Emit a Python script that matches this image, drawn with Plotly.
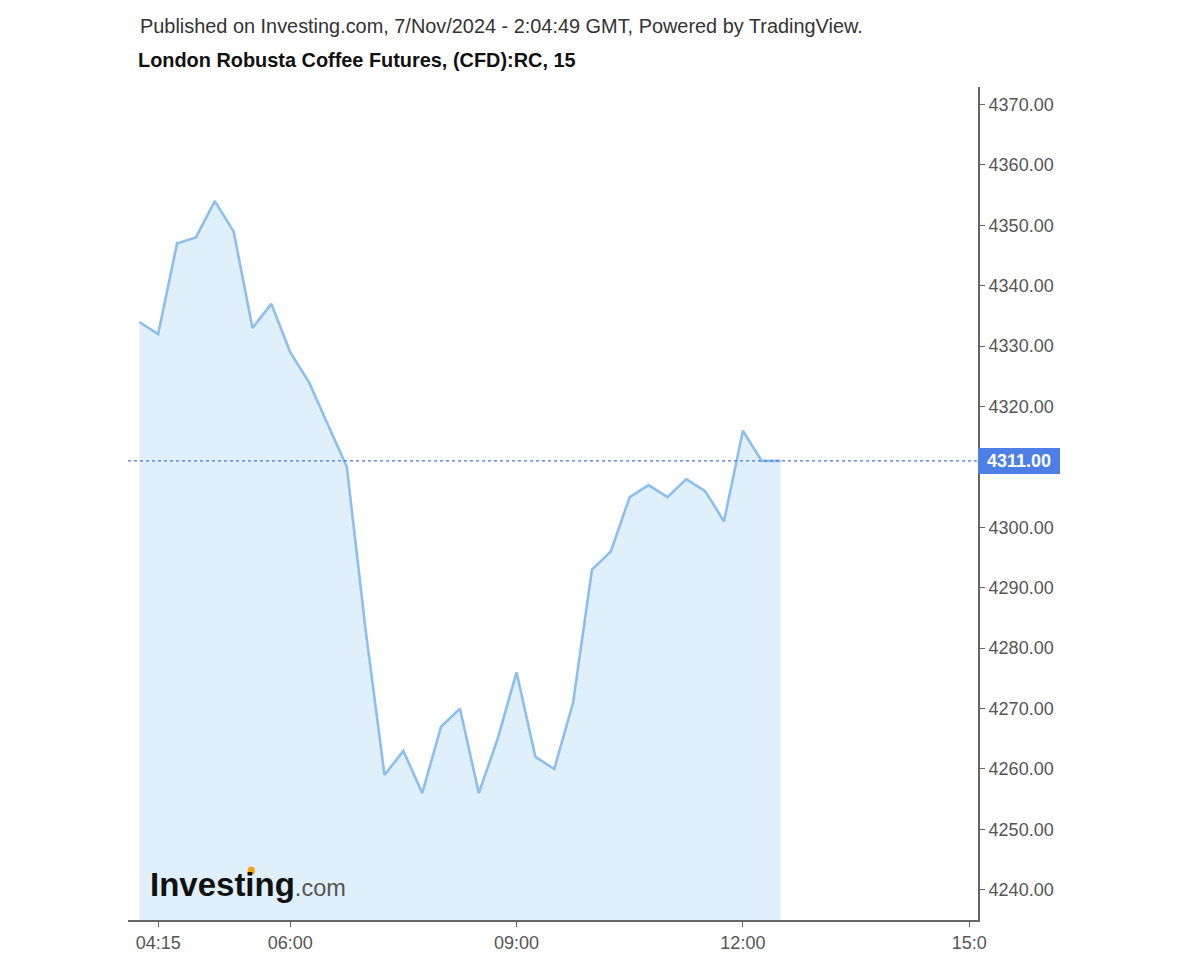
import plotly.graph_objects as go

times = [
    "04:00", "04:15", "04:30", "04:45", "05:00", "05:15", "05:30", "05:45",
    "06:00", "06:15", "06:30", "06:45", "07:00", "07:15", "07:30", "07:45",
    "08:00", "08:15", "08:30", "08:45", "09:00", "09:15", "09:30", "09:45",
    "10:00", "10:15", "10:30", "10:45", "11:00", "11:15", "11:30", "11:45",
    "12:00", "12:15", "12:30",
]
prices = [
    4334, 4332, 4347, 4348, 4354, 4349, 4333, 4337,
    4329, 4324, 4317, 4310, 4283, 4259, 4263, 4256,
    4267, 4270, 4256, 4265, 4276, 4262, 4260, 4271,
    4293, 4296, 4305, 4307, 4305, 4308, 4306, 4301,
    4316, 4311, 4311,
]
last_price = 4311.00
date = "2024-11-07"
tick_times = ["04:15", "06:00", "09:00", "12:00", "15:00"]
tick_labels = ["04:15", "06:00", "09:00", "12:00", "15:0"]
# 4310.00 sits hidden behind the last-price label in the original
y_ticks = [4240, 4250, 4260, 4270, 4280, 4290, 4300, 4320, 4330, 4340, 4350, 4360, 4370]

FONT = "Liberation Sans, Arial, sans-serif"
x = [f"{date} {t}" for t in times]

fig = go.Figure()
fig.add_trace(go.Scatter(
    x=x, y=prices, mode="lines",
    line=dict(color="#8cbfee", width=2.6),
    fill="tozeroy", fillcolor="#e0f0fa",
    hoverinfo="skip", showlegend=False,
))

fig.add_shape(type="line", xref="paper", yref="y", x0=0, x1=1,
              y0=last_price, y1=last_price,
              line=dict(color="#4a78e2", width=1.2, dash="dot"))

fig.add_annotation(xref="paper", yref="y", x=1.0, y=last_price,
                   xanchor="left", yanchor="middle", showarrow=False,
                   text=f"<b>{last_price:.2f}</b>",
                   font=dict(family=FONT, size=18, color="white"),
                   bgcolor="#4e7fe6", bordercolor="#4e7fe6", borderwidth=1,
                   borderpad=2, width=76, height=20)

fig.add_annotation(xref="paper", yref="paper", x=0.024, y=0.043,
                   xanchor="left", yanchor="middle", showarrow=False,
                   text="<b>Investing</b><span style='font-size:23.5px;color:#555'>.com</span>",
                   font=dict(family=FONT, size=33, color="#111"))
# orange dot of the logo's "i"
PW, PH = 850.0, 833.0
fig.add_shape(type="circle", xref="paper", yref="paper",
              x0=(247.5 - 128) / PW, x1=(255.0 - 128) / PW,
              y0=(920 - 875.0) / PH, y1=(920 - 866.5) / PH,
              fillcolor="#f7a21b", line=dict(width=0), layer="above")

fig.add_annotation(xref="paper", yref="paper", x=0.0118, y=1.0732,
                   xanchor="left", yanchor="middle", showarrow=False,
                   text="Published on Investing.com, 7/Nov/2024 - 2:04:49 GMT, Powered by TradingView.",
                   font=dict(family=FONT, size=19.9, color="#333"))
fig.add_annotation(xref="paper", yref="paper", x=0.0094, y=1.032,
                   xanchor="left", yanchor="middle", showarrow=False,
                   text="<b>London Robusta Coffee Futures, (CFD):RC, 15</b>",
                   font=dict(family=FONT, size=19.9, color="#111"))

fig.update_layout(
    width=1192, height=952,
    margin=dict(l=120, r=222, t=79, b=40, autoexpand=False),
    paper_bgcolor="white", plot_bgcolor="white",
    font=dict(family=FONT, size=18, color="#555"),
    xaxis=dict(
        range=[f"{date} 03:51", f"{date} 15:07"],
        tickvals=[f"{date} {t}" for t in tick_times], ticktext=tick_labels,
        showgrid=False, zeroline=False, showline=True, linecolor="#666", linewidth=2,
        ticks="outside", ticklen=5, tickcolor="#666", automargin=False,
        tickfont=dict(size=18, color="#555"),
    ),
    yaxis=dict(
        side="right", range=[4235.0, 4372.9],
        tickvals=y_ticks, tickformat=".2f",
        showgrid=False, zeroline=False, showline=True, linecolor="#666", linewidth=2,
        ticks="outside", ticklen=5, tickcolor="#666", automargin=False,
        tickfont=dict(size=18, color="#555"),
    ),
)

fig.write_html("out.html")
